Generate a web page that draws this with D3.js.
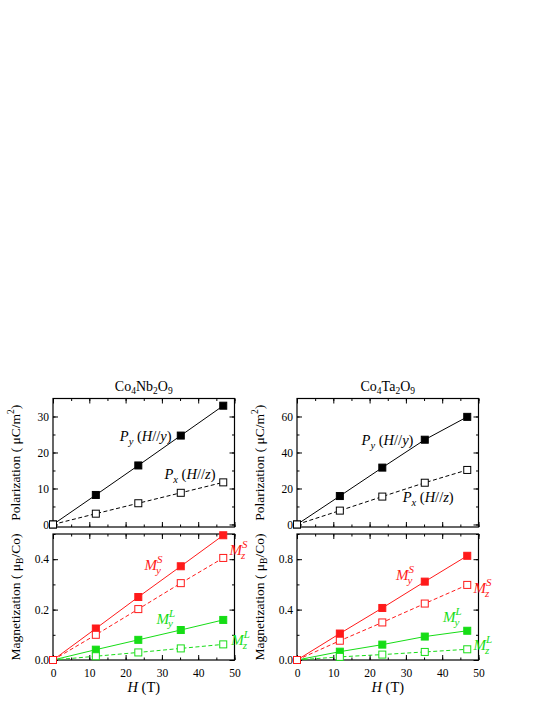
<!DOCTYPE html>
<html>
<head>
<meta charset="utf-8">
<script src="https://cdn.jsdelivr.net/npm/d3@7"></script>
<style>
  body { margin: 0; background: #fff; }
</style>
</head>
<body>
<div id="chart"></div>
<script>
var width = 545,
    height = 705;
var FONT = "'Liberation Serif', 'Times New Roman', Times, 'DejaVu Serif', serif";

// field values (T)
var fields = [0, 11.8, 23.5, 35.2, 46.9];

// Co4Nb2O9
var nbPy  = [0, 8.2, 16.4, 24.7, 33.0];
var nbPx  = [0, 3.0, 5.9, 8.8, 11.7];
var nbMyS = [0, 0.125, 0.250, 0.372, 0.495];
var nbMzS = [0, 0.100, 0.202, 0.305, 0.405];
var nbMyL = [0, 0.041, 0.080, 0.119, 0.159];
var nbMzL = [0, 0.015, 0.030, 0.046, 0.062];

// Co4Ta2O9
var taPy  = [0, 15.8, 31.6, 47.1, 59.8];
var taPx  = [0, 7.7, 15.5, 23.2, 30.3];
var taMyS = [0, 0.210, 0.413, 0.622, 0.827];
var taMzS = [0, 0.153, 0.298, 0.448, 0.596];
var taMyL = [0, 0.066, 0.122, 0.186, 0.232];
var taMzL = [0, 0.025, 0.043, 0.064, 0.085];

var xTicks = [0, 10, 20, 30, 40, 50];
var nbPTicks = [0, 10, 20, 30];
var taPTicks = [0, 20, 40, 60];
var nbMTicks = [0, 0.2, 0.4];
var taMTicks = [0, 0.4, 0.8];

var RED = "#ff1a1a", GREEN = "#16dd16";

var svg = d3.select("#chart")
  .append("svg")
  .attr("width", width)
  .attr("height", height)
  .attr("font-family", FONT);

// one panel = frame + ticks on all four sides
function panel(x, y, opts) {
  var g = svg.append("g");
  var x0 = x.range()[0], x1 = x.range()[1];
  var y0 = y.range()[0], y1 = y.range()[1];

  var xMinor = d3.range(0, 50.1, 5);
  var yMinor = opts.yMinor;

  function ax(axisFn, scale, vals, size, labels, tr) {
    var a = axisFn(scale).tickValues(vals).tickSize(-size).tickSizeOuter(0).tickPadding(labels ? 4 : 0);
    if (!labels) a.tickFormat("");
    else a.tickFormat(labels);
    var s = g.append("g").attr("transform", tr).call(a);
    s.attr("font-family", FONT);
    s.select(".domain").remove();
    s.selectAll("line").attr("stroke", "#000").attr("stroke-width", 1);
    s.selectAll("text").attr("font-size", 11.5).attr("fill", "#000");
    return s;
  }

  // bottom
  ax(d3.axisBottom, x, xMinor, 2.5, null, "translate(0," + y0 + ")");
  ax(d3.axisBottom, x, xTicks, 5, opts.xLabels ? d3.format("d") : null, "translate(0," + y0 + ")")
    .selectAll("text").attr("dy", "1.0em").attr("y", 5);
  // top
  ax(d3.axisTop, x, xMinor, 2.5, null, "translate(0," + y1 + ")");
  ax(d3.axisTop, x, xTicks, 5, null, "translate(0," + y1 + ")");
  // left
  ax(d3.axisLeft, y, yMinor, 2.5, null, "translate(" + x0 + ",0)");
  ax(d3.axisLeft, y, opts.yTicks, 5, opts.yFormat, "translate(" + x0 + ",0)");
  // right
  ax(d3.axisRight, y, yMinor, 2.5, null, "translate(" + x1 + ",0)");
  ax(d3.axisRight, y, opts.yTicks, 5, null, "translate(" + x1 + ",0)");

  g.append("rect")
    .attr("x", x0).attr("y", y1)
    .attr("width", x1 - x0).attr("height", y0 - y1)
    .attr("fill", "none").attr("stroke", "#000").attr("stroke-width", 1.2);
  return g;
}

function series(x, y, vals, color, filled) {
  var pts = fields.map(function(f, i) { return [f, vals[i]]; });
  var line = d3.line()
    .x(function(d) { return x(d[0]); })
    .y(function(d) { return y(d[1]); });
  svg.append("path")
    .datum(pts)
    .attr("d", line)
    .attr("fill", "none")
    .attr("stroke", color)
    .attr("stroke-width", 1)
    .attr("stroke-dasharray", filled ? null : "4,2.5");
  svg.selectAll(null)
    .data(pts)
    .enter().append("rect")
    .attr("x", function(d) { return x(d[0]) - 3.5; })
    .attr("y", function(d) { return y(d[1]) - 3.5; })
    .attr("width", 7)
    .attr("height", 7)
    .attr("fill", filled ? color : "#fff")
    .attr("stroke", color)
    .attr("stroke-width", 1);
}

// P_y (H//y) style label
function pLabel(px, py, sub, dir) {
  var t = svg.append("text")
    .attr("x", px).attr("y", py)
    .attr("font-size", 14.5).attr("fill", "#000");
  t.append("tspan").attr("font-style", "italic").text("P");
  t.append("tspan").attr("font-style", "italic").attr("font-size", 10.5).attr("dy", 4).text(sub);
  t.append("tspan").attr("dy", -4).text(" (");
  t.append("tspan").attr("font-style", "italic").text("H");
  t.append("tspan").text("//");
  t.append("tspan").attr("font-style", "italic").text(dir);
  t.append("tspan").text(")");
}

// M with stacked superscript / subscript
function mLabel(px, py, sup, sub, color) {
  svg.append("text")
    .attr("x", px).attr("y", py)
    .attr("font-size", 15).attr("font-style", "italic").attr("fill", color)
    .text("M");
  svg.append("text")
    .attr("x", px + 12.5).attr("y", py - 7)
    .attr("font-size", 11).attr("font-style", "italic").attr("fill", color)
    .text(sup);
  svg.append("text")
    .attr("x", px + 11.5).attr("y", py + 3.5)
    .attr("font-size", 11).attr("font-style", "italic").attr("fill", color)
    .text(sub);
}

function compound(cx, cy, main) {
  // Co4X2O9
  var t = svg.append("text").attr("x", cx).attr("y", cy)
    .attr("text-anchor", "middle").attr("font-size", 14).attr("fill", "#000");
  t.append("tspan").text("Co");
  t.append("tspan").attr("font-size", 9.5).attr("dy", 3).text("4");
  t.append("tspan").attr("dy", -3).text(main);
  t.append("tspan").attr("font-size", 9.5).attr("dy", 3).text("2");
  t.append("tspan").attr("dy", -3).text("O");
  t.append("tspan").attr("font-size", 9.5).attr("dy", 3).text("9");
}

function yLabel(cx, cy, kind) {
  var t = svg.append("text")
    .attr("transform", "translate(" + cx + "," + cy + ") rotate(-90)")
    .attr("text-anchor", "middle").attr("font-size", 13.5).attr("fill", "#000");
  if (kind === "P") {
    t.append("tspan").text("Polarization ( \u03bcC/m");
    t.append("tspan").attr("font-size", 9.5).attr("dy", -6).text("2");
    t.append("tspan").attr("dy", 6).text(")");
  } else {
    t.append("tspan").text("Magnetization ( \u03bc");
    t.append("tspan").attr("font-size", 9.5).attr("dy", 3).text("B");
    t.append("tspan").attr("dy", -3).text("/Co)");
  }
}

function xLabel(cx, cy) {
  var t = svg.append("text").attr("x", cx).attr("y", cy)
    .attr("text-anchor", "middle").attr("font-size", 14.5).attr("fill", "#000");
  t.append("tspan").attr("font-style", "italic").text("H");
  t.append("tspan").text(" (T)");
}

function column(left, title, P, M, pDom, mDom, pTicks, pMinor, mTicks, mMinor, lab) {
  var x = d3.scaleLinear().domain([0, 50]).range([left, left + 181.5]);
  var yP = d3.scaleLinear().domain(pDom).range([527, 398.5]);
  var yM = d3.scaleLinear().domain(mDom).range([660, 534]);

  panel(x, yP, { yTicks: pTicks, yMinor: pMinor, yFormat: d3.format("d") });
  panel(x, yM, { yTicks: mTicks, yMinor: mMinor, yFormat: d3.format(".1f"), xLabels: true });

  series(x, yP, P[0], "#000", true);
  series(x, yP, P[1], "#000", false);
  series(x, yM, M[2], GREEN, true);
  series(x, yM, M[3], GREEN, false);
  series(x, yM, M[0], RED, true);
  series(x, yM, M[1], RED, false);

  pLabel(x(lab.py[0]), yP(lab.py[1]), "y", "y");
  pLabel(x(lab.px[0]), yP(lab.px[1]), "x", "z");
  mLabel(x(lab.myS[0]), yM(lab.myS[1]), "S", "y", RED);
  mLabel(x(lab.mzS[0]), yM(lab.mzS[1]), "S", "z", RED);
  mLabel(x(lab.myL[0]), yM(lab.myL[1]), "L", "y", GREEN);
  mLabel(x(lab.mzL[0]), yM(lab.mzL[1]), "L", "z", GREEN);

  compound(x(25), 391, title);
  yLabel(left - 33, (527 + 398.5) / 2, "P");
  yLabel(left - 33, (660 + 534) / 2, "M");
  xLabel(x(25), 692);
}

column(53, "Nb", [nbPy, nbPx], [nbMyS, nbMzS, nbMyL, nbMzL],
  [-0.7, 35], [0, 0.5], nbPTicks, d3.range(0, 35, 5), nbMTicks, d3.range(0, 0.51, 0.1),
  { py: [18.4, 23.1], px: [30.7, 12.6], myS: [25.2, 0.356], mzS: [48.6, 0.415], myL: [28.5, 0.144], mzL: [49.1, 0.058] });

column(297, "Ta", [taPy, taPx], [taMyS, taMzS, taMyL, taMzL],
  [-1.4, 70], [0, 1.0], taPTicks, d3.range(0, 70, 10), taMTicks, d3.range(0, 1.01, 0.2),
  { py: [17.8, 44], px: [29.1, 12.6], myS: [27.3, 0.632], mzS: [48.6, 0.531], myL: [40.2, 0.30], mzL: [48.6, 0.076] });
</script>
</body>
</html>
